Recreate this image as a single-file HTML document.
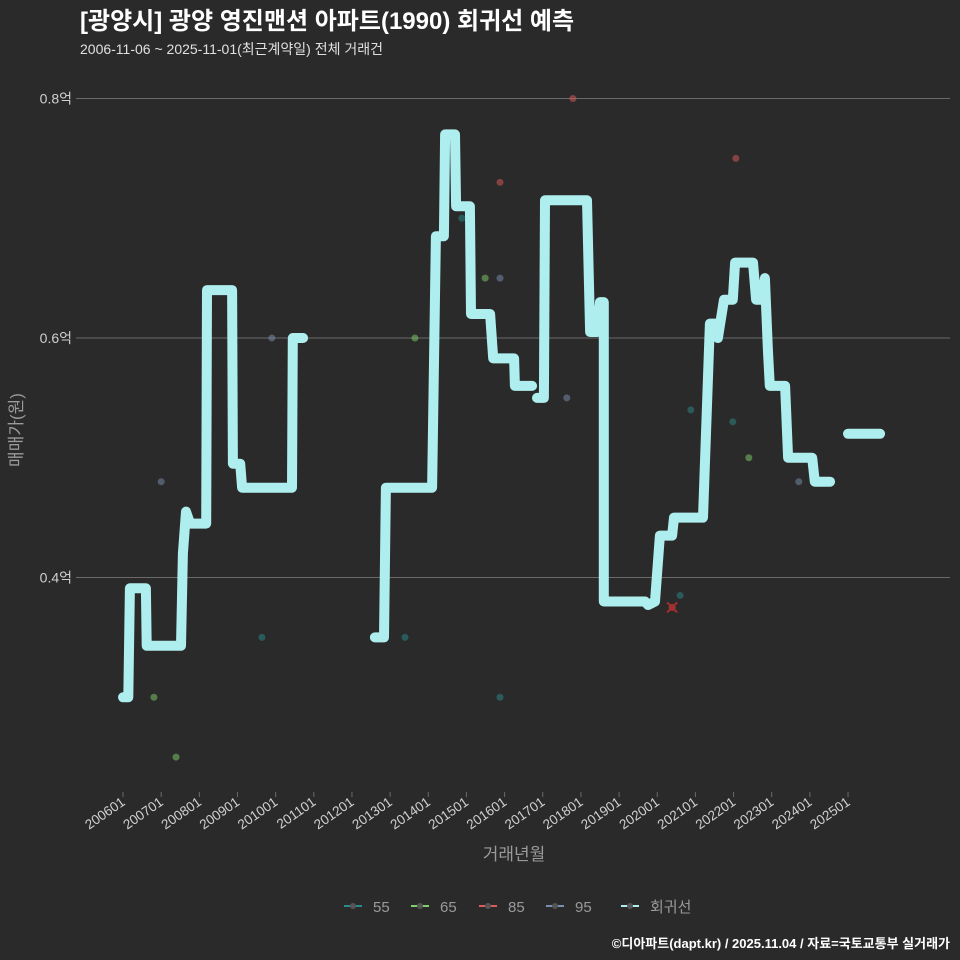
<!DOCTYPE html>
<html><head><meta charset="utf-8"><style>
html,body{margin:0;padding:0;background:#2b2a2b;}
svg{display:block;font-family:"Liberation Sans","Noto Sans CJK KR",sans-serif;}
</style></head><body>
<svg id="c" width="960" height="960" viewBox="0 0 960 960">
<rect width="960" height="960" fill="#2b2a2b"/>
<text x="80" y="29" fill="#ffffff" font-size="24" font-weight="bold">[광양시] 광양 영진맨션 아파트(1990) 회귀선 예측</text>
<text x="80" y="54" fill="#e0e0e0" font-size="14">2006-11-06 ~ 2025-11-01(최근계약일) 전체 거래건</text>
<g id="grid"></g><g id="xaxis"></g><g id="line"></g><g id="pts"></g>
<text x="514" y="860" fill="#9a9a9a" font-size="17" text-anchor="middle">거래년월</text>
<text transform="translate(22,430) rotate(-90)" fill="#9a9a9a" font-size="17" text-anchor="middle">매매가(원)</text>
<g id="legend"></g>
<text x="950" y="948" fill="#ffffff" font-size="13" font-weight="bold" text-anchor="end">©디아파트(dapt.kr) / 2025.11.04 / 자료=국토교통부 실거래가</text>
</svg>
<script>
const yTicks=[0.4,0.6,0.8];
const yTickLabels=["0.4억","0.6억","0.8억"];
const xTickYears=[2006,2007,2008,2009,2010,2011,2012,2013,2014,2015,2016,2017,2018,2019,2020,2021,2022,2023,2024,2025];
const lineT=[2006.0,2006.14,2006.18,2006.6,2006.62,2007.52,2007.57,2007.65,2007.76,2008.18,2008.2,2008.86,2008.88,2009.07,2009.12,2010.43,2010.45,2010.72,null,
2012.6,2012.84,2012.89,2014.1,2014.2,2014.41,2014.44,2014.7,2014.73,2015.09,2015.12,2015.62,2015.7,2016.25,2016.27,2016.72,null,
2016.85,2017.03,2017.06,2018.16,2018.24,2018.42,2018.5,2018.6,2018.6,2019.68,2019.76,2019.94,2020.07,2020.39,2020.44,2021.2,2021.38,2021.54,2021.59,2021.75,2021.98,2022.04,2022.51,2022.59,2022.75,2022.82,2022.9,2022.95,2023.35,2023.43,2024.06,2024.13,2024.53,null,
2025.0,2025.84];
const lineV=[0.3,0.3,0.391,0.391,0.343,0.343,0.42,0.455,0.445,0.445,0.64,0.64,0.495,0.495,0.475,0.475,0.6,0.6,null,
0.35,0.35,0.475,0.475,0.685,0.685,0.77,0.77,0.71,0.71,0.62,0.62,0.583,0.583,0.56,0.56,null,
0.55,0.55,0.715,0.715,0.605,0.605,0.63,0.63,0.38,0.38,0.377,0.38,0.435,0.435,0.45,0.45,0.612,0.612,0.6,0.632,0.632,0.663,0.663,0.632,0.632,0.65,0.59,0.56,0.56,0.5,0.5,0.48,0.48,null,
0.52,0.52];
const ptT=[2006.81,2007.39,2007.0,2009.64,2009.9,2013.39,2013.65,2014.88,2015.49,2015.88,2015.88,2015.88,2017.63,2017.79,2020.6,2020.39,2020.88,2021.98,2022.06,2022.4,2023.71];
const ptV=[0.3,0.25,0.48,0.35,0.6,0.35,0.6,0.7,0.65,0.73,0.65,0.3,0.55,0.8,0.385,0.375,0.54,0.53,0.75,0.5,0.48];
const ptCat=["65","65","95","55","95","55","65","55","65","85","95","55","95","85","55","85","55","55","85","65","95"];
const legendLabels=["55","65","85","95","회귀선"];
const colors={"55":"#2a8a8a","65":"#7fd06a","85":"#e05a5a","95":"#7a8fb0","회귀선":"#aeeeee"};
const NS="http://www.w3.org/2000/svg";
const X=t=>123+(t-2006)*38.16;
const Y=v=>338-(v-0.6)*1197.5;
function mk(tag,attrs,parent){const e=document.createElementNS(NS,tag);for(const k in attrs)e.setAttribute(k,attrs[k]);parent.appendChild(e);return e;}
const grid=document.getElementById('grid');
yTicks.forEach((v,i)=>{
 const l=mk('line',{x1:76,x2:950,y1:Y(v),y2:Y(v),stroke:'#6a6a6a','stroke-width':1},grid);
 
 
 const t=mk('text',{x:72,y:Y(v)+5,fill:'#d0d0d0','font-size':14,'text-anchor':'end'},grid);
 t.textContent=yTickLabels[i];
 
 
});
const xa=document.getElementById('xaxis');
xTickYears.forEach(yr=>{
 const x=X(yr);
 const tk=mk('line',{x1:x,x2:x,y1:792,y2:797,stroke:'#6a6a6a'},xa);
 
 
 const t=mk('text',{transform:`translate(${x+3},${804}) rotate(-35)`,fill:'#d0d0d0','font-size':13.5,'text-anchor':'end'},xa);
 t.textContent=yr+'01';
 
 
});
let d='',pen=false;
for(let i=0;i<lineT.length;i++){
 if(lineT[i]===null){pen=false;continue;}
 d+=(pen?'L':'M')+X(lineT[i]).toFixed(1)+','+Y(lineV[i]).toFixed(1);pen=true;
}
const path=mk('path',{d:d,fill:'none',stroke:'#aeeeee','stroke-width':10,'stroke-linejoin':'round','stroke-linecap':'round'},document.getElementById('line'));


const pg=document.getElementById('pts');
ptT.forEach((t,i)=>{
 const c=mk('circle',{cx:X(t),cy:Y(ptV[i]),r:3.5,fill:colors[ptCat[i]],'fill-opacity':0.5},pg);
 
 
});
const lx=X(2020.39),ly=Y(0.375);
const xm=mk('path',{d:`M${lx-5},${ly-5}L${lx+5},${ly+5}M${lx-5},${ly+5}L${lx+5},${ly-5}`,stroke:'#b02a2a','stroke-width':2},pg);


const lg=document.getElementById('legend');
const lxs=[344,411,479,546,621];
legendLabels.forEach((lab,i)=>{
 const g=mk('g',{},lg);
 
 
 mk('line',{x1:lxs[i],x2:lxs[i]+18,y1:906,y2:906,stroke:colors[lab],'stroke-width':2},g);
 mk('circle',{cx:lxs[i]+9,cy:906,r:3,fill:'#555'},g);
 const t=mk('text',{x:lxs[i]+29,y:912,fill:'#9a9a9a','font-size':15},g);
 t.textContent=lab;
});
</script>
</body></html>
